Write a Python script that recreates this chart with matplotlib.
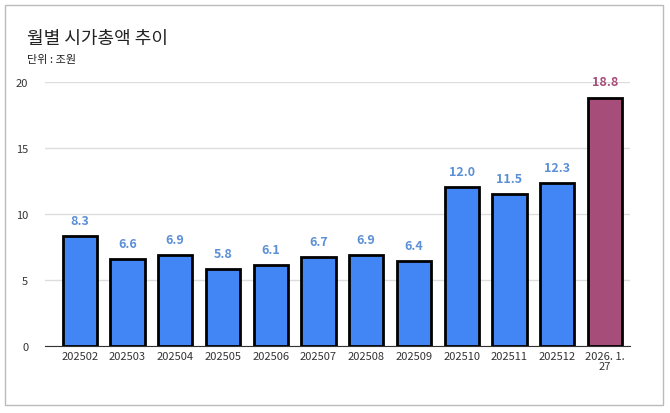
import matplotlib
matplotlib.use("Agg")
import matplotlib.pyplot as plt
from matplotlib.patches import Rectangle

plt.rcParams['font.family'] = ['Noto Sans CJK KR', 'DejaVu Sans']

categories = ["202502","202503","202504","202505","202506","202507","202508","202509","202510","202511","202512","2026. 1.\n27"]
values = [8.3, 6.6, 6.9, 5.8, 6.1, 6.7, 6.9, 6.4, 12.0, 11.5, 12.3, 18.8]
yticks = [0, 5, 10, 15, 20]

fig = plt.figure(figsize=(6.7, 4.14), dpi=100)
fig.patches.append(Rectangle((0.008, 0.02), 0.982, 0.965, transform=fig.transFigure,
                             fill=False, edgecolor='#bbbbbb', linewidth=1))
ax = fig.add_axes([0.067, 0.162, 0.873, 0.638])
colors = ['#4285f4'] * (len(values) - 1) + ['#a64d79']
lblcolors = ['#5b8fd6'] * (len(values) - 1) + ['#a64d79']
x = list(range(len(values)))
ax.bar(x, values, width=0.72, color=colors, edgecolor='black', linewidth=2, zorder=3)
for i, v in enumerate(values):
    ax.text(i, v + 0.7, f"{v:.1f}", ha='center', va='bottom', color=lblcolors[i],
            fontsize=9, fontweight='bold', clip_on=False)
ax.set_xlim(-0.73, 11.52)
ax.set_ylim(0, 20)
ax.set_yticks(yticks)
ax.set_xticks(x)
ax.set_xticklabels(categories, fontsize=8, color='#333333', linespacing=0.9)
ax.tick_params(axis='y', labelsize=8, colors='#333333', length=0, pad=12)
ax.tick_params(axis='x', length=0, pad=4)
ax.grid(axis='y', color='#dddddd', linewidth=1, zorder=0)
for s in ['top', 'right', 'left']:
    ax.spines[s].set_visible(False)
ax.spines['bottom'].set_color('#333333')
fig.text(0.04, 0.905, "월별 시가총액 추이", fontsize=13, color='#222222', va='center')
fig.text(0.04, 0.855, "단위 : 조원", fontsize=8, color='#222222', va='center')
fig.savefig("out.png", dpi=100)
